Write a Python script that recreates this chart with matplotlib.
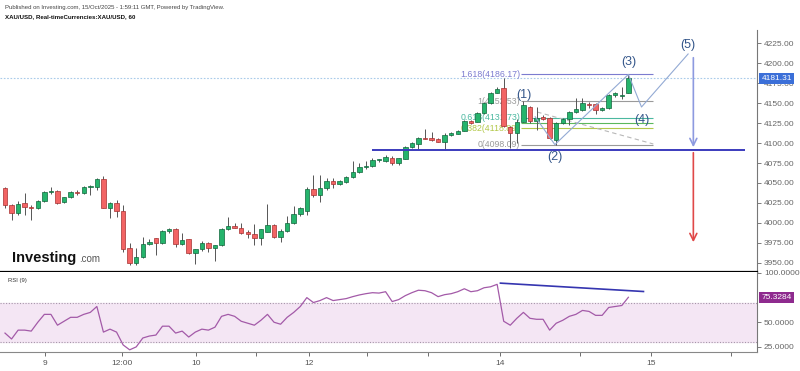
import numpy as np
import matplotlib.pyplot as plt
from matplotlib.transforms import blended_transform_factory

plt.rcParams['font.family'] = ['Liberation Sans', 'DejaVu Sans']

# XAU/USD 60 min candles
opens = [4043.3, 4022.4, 4012.3, 4024.9, 4019.9, 4018.6, 4027.4, 4038.7, 4040.4, 4026.0,
         4032.4, 4039.0, 4037.5, 4045.0, 4045.0, 4055.0, 4018.6, 4025.0, 4015.0, 3968.0,
         3950.0, 3957.0, 3973.5, 3980.6, 3975.0, 3990.0, 3991.9, 3973.5, 3979.4, 3961.8,
         3966.8, 3975.0, 3968.0, 3972.2, 3991.9, 3996.0, 3993.2, 3988.9, 3985.6, 3980.6,
         3988.9, 3997.3, 3982.6, 3990.1, 3999.4, 4011.1, 4015.2, 4042.0, 4034.9, 4044.0,
         4052.9, 4048.7, 4051.6, 4057.0, 4064.0, 4069.7, 4071.7, 4078.8, 4078.0, 4081.7,
         4074.7, 4080.0, 4094.8, 4099.0, 4106.8, 4106.0, 4104.8, 4101.8, 4110.2, 4112.0,
         4115.6, 4128.1, 4126.9, 4137.4, 4150.0, 4163.3, 4168.8, 4120.6, 4112.7, 4126.9,
         4145.7, 4127.8, 4133.2, 4131.2, 4104.0, 4124.9, 4130.3, 4139.1, 4141.2, 4149.5,
         4148.7, 4141.6, 4144.1, 4159.8, 4158.6, 4163.3]
highs = [4045.0, 4024.0, 4027.0, 4037.4, 4022.0, 4029.0, 4040.0, 4045.0, 4041.0, 4033.0,
         4040.0, 4041.0, 4046.0, 4047.5, 4056.0, 4058.8, 4026.5, 4029.0, 4022.4, 3974.7,
         3968.0, 3982.6, 3980.0, 3981.0, 3991.0, 3994.0, 3993.5, 3987.3, 3980.0, 3967.0,
         3977.6, 3976.0, 3972.5, 3993.5, 4006.9, 4000.0, 4000.0, 3991.0, 3998.5, 3992.5,
         4023.6, 3998.5, 3992.0, 4008.6, 4021.0, 4020.0, 4045.3, 4060.0, 4060.0, 4056.0,
         4056.0, 4054.0, 4058.8, 4078.0, 4075.0, 4078.0, 4081.3, 4080.5, 4085.0, 4083.8,
         4081.5, 4096.0, 4101.4, 4107.7, 4117.4, 4114.3, 4106.5, 4112.7, 4114.0, 4117.0,
         4129.6, 4129.6, 4139.0, 4151.6, 4164.2, 4170.8, 4181.7, 4121.5, 4130.0, 4152.53,
         4146.6, 4145.7, 4135.3, 4132.8, 4126.5, 4131.5, 4140.3, 4156.6, 4157.0, 4151.6,
         4150.4, 4145.3, 4161.0, 4164.2, 4170.8, 4186.17]
lows = [4018.0, 4003.6, 4010.0, 4010.0, 4003.6, 4017.0, 4026.0, 4036.0, 4023.0, 4025.0,
        4031.0, 4035.0, 4036.0, 4035.0, 4041.0, 4018.0, 4006.0, 4007.0, 3963.0, 3947.1,
        3947.0, 3956.0, 3972.0, 3959.7, 3974.0, 3987.0, 3970.0, 3972.0, 3961.0, 3948.4,
        3965.0, 3964.0, 3952.5, 3971.0, 3991.0, 3993.0, 3986.0, 3981.4, 3972.0, 3972.0,
        3988.0, 3981.0, 3976.0, 3989.0, 3998.0, 4009.0, 4009.8, 4033.0, 4026.5, 4041.0,
        4044.0, 4047.0, 4050.0, 4056.0, 4062.0, 4068.0, 4070.0, 4076.0, 4076.0, 4073.0,
        4073.0, 4079.7, 4094.0, 4092.3, 4104.6, 4102.7, 4100.8, 4091.4, 4109.0, 4111.0,
        4114.6, 4124.6, 4125.9, 4136.6, 4149.0, 4162.3, 4120.2, 4093.9, 4100.2, 4126.0,
        4125.3, 4116.5, 4129.0, 4105.0, 4098.09, 4124.0, 4122.8, 4138.0, 4140.0, 4143.7,
        4136.6, 4140.3, 4142.9, 4158.0, 4155.0, 4162.9]
closes = [4022.4, 4012.3, 4023.6, 4019.9, 4018.6, 4027.4, 4038.7, 4040.4, 4024.9, 4032.4,
          4039.1, 4037.5, 4045.0, 4046.2, 4055.0, 4018.6, 4025.3, 4014.9, 3967.2, 3949.2,
          3957.2, 3973.5, 3976.3, 3975.1, 3990.1, 3991.9, 3973.5, 3978.5, 3961.8, 3966.8,
          3974.3, 3968.0, 3972.2, 3991.9, 3996.0, 3993.9, 3986.9, 3986.0, 3980.6, 3991.9,
          3997.3, 3982.6, 3990.1, 3999.4, 4011.1, 4018.2, 4042.1, 4034.9, 4044.1, 4052.9,
          4048.7, 4052.5, 4057.1, 4064.2, 4069.7, 4071.7, 4078.8, 4079.5, 4082.2, 4074.7,
          4081.0, 4094.8, 4099.8, 4106.1, 4105.6, 4103.9, 4101.8, 4110.2, 4112.3, 4115.6,
          4128.1, 4125.6, 4137.4, 4150.0, 4162.5, 4167.5, 4120.9, 4112.7, 4126.9, 4147.8,
          4127.8, 4131.9, 4130.3, 4106.1, 4124.9, 4130.3, 4139.1, 4143.2, 4150.0, 4147.8,
          4141.6, 4144.1, 4159.8, 4162.9, 4160.0, 4181.31]

rsi = [39, 33, 42, 42, 41, 50, 58, 58, 47, 51, 55, 55, 58, 60, 66, 40, 43, 40, 27, 22,
       25, 34, 36, 37, 46, 46, 39, 41, 35, 40, 43, 42, 45, 56, 58, 56, 51, 49, 47, 52,
       58, 50, 48, 55, 60, 66, 75, 70, 72, 75, 72, 73, 74, 76, 77.7, 79, 80, 79.6, 81, 71,
       73, 77, 80, 82.5, 82, 80, 76, 78, 79, 81, 84, 81, 82, 85, 86, 88.5, 51, 47, 54, 60,
       54, 53, 53, 42, 49, 52, 56, 58, 62, 61, 57, 57, 65, 66, 67, 75.3284]

price_ticks = [3950, 3975, 4000, 4025, 4050, 4075, 4100, 4125, 4150, 4175, 4200, 4225]
rsi_ticks = [25, 50, 100]
date_pos = [6.1, 17.8, 29.1, 38.3, 46.3, 55.2, 64.5, 75.5, 87.7, 98.5, 110.7]
date_labels = ['9', '12:00', '10', '', '12', '', '', '14', '', '15', '']

last_price = 4181.31
support = 4091.4
fib_prices = [4098.09, 4118.89, 4125.31, 4131.73, 4152.53, 4186.17]
fib_labels = ['0(4098.09)', '0.382(4118.89)', '', '0.618(4131.73)', '1(4152.53)', '1.618(4186.17)']
fib_colors = ['#9a9a9a', '#b3c84a', '#5cb85c', '#4bb8a0', '#9a9a9a', '#7c7cd0']

# elliott count drawn on the chart
wave_x = [80.8, 83.8, 95.0, 97.0, 104.1]
wave_y = [4133.0, 4098.09, 4186.17, 4145.3, 4211.8]
wave_names = ['(1)', '(2)', '(3)', '(4)', '(5)']
wave_lx = [79.0, 83.8, 95.0, 97.0, 104.1]
wave_ly = [4160.4, 4082.6, 4201.8, 4129.0, 4223.1]
target = 3972.2

n = len(closes)
idx = np.arange(n)
o = np.array(opens)
c = np.array(closes)
up = c >= o

fig = plt.figure(figsize=(8, 3.71), dpi=100)
ax = fig.add_axes([0, 1 - 272 / 371, 757 / 800, 242 / 371])
ax2 = fig.add_axes([0, 1 - 352 / 371, 757 / 800, 80 / 371])

# candles
ax.vlines(idx, lows, highs, color='#555555', lw=0.7, zorder=3)
body_lo = np.minimum(o, c)
body_h = np.maximum(np.abs(c - o), 0.9)
ax.bar(idx[up], body_h[up], bottom=body_lo[up], width=0.68, color='#25b46c',
       edgecolor='#11663c', linewidth=0.5, zorder=4)
ax.bar(idx[~up], body_h[~up], bottom=body_lo[~up], width=0.68, color='#f26464',
       edgecolor='#a53030', linewidth=0.5, zorder=4)

ax.axhline(last_price, color='#a9cbea', lw=0.8, ls=(0, (1.5, 1.5)), zorder=1)
ax.hlines(support, 55.9, 112.8, color='#3b3bbd', lw=1.4, zorder=5)

# fib extension
for p, lab, col in zip(fib_prices, fib_labels, fib_colors):
    ax.hlines(p, 78.7, 98.8, color=col, lw=0.8, zorder=2)
    if lab:
        ax.text(78.5, p, lab, color=col, fontsize=6.3, ha='right', va='center', zorder=2)
ax.plot([81.1, 98.8], [4139.0, 4098.9], color='#b8b8b8', lw=0.8, ls=(0, (4, 3)), zorder=2)

ax.plot(wave_x, wave_y, color='#93aad4', lw=0.8, zorder=6)
for x, y, t in zip(wave_lx, wave_ly, wave_names):
    ax.text(x, y, t, color='#34568a', fontsize=9, ha='center', va='center', zorder=7)

ax.annotate('', xy=(104.9, support), xytext=(104.9, 4210.6),
            arrowprops=dict(arrowstyle='->,head_length=0.5,head_width=0.25', color='#8d9ae0', lw=1.2))
ax.annotate('', xy=(104.9, target), xytext=(104.9, support),
            arrowprops=dict(arrowstyle='->,head_length=0.5,head_width=0.25', color='#e04848', lw=1.2))

ax.set_xlim(-0.76, 114.6)
ax.set_ylim(3938.3, 4241.9)
ax.yaxis.tick_right()
ax.set_yticks(price_ticks)
ax.set_yticklabels(['%.2f' % t for t in price_ticks])
ax.tick_params(axis='y', labelsize=6, colors='#666666', length=3, width=0.6, pad=2)
ax.tick_params(axis='x', bottom=False, labelbottom=False)
for s in ['left', 'top']:
    ax.spines[s].set_visible(False)
ax.spines['right'].set_color('#777777')
ax.spines['right'].set_linewidth(0.8)
ax.spines['bottom'].set_color('black')
ax.spines['bottom'].set_linewidth(1.6)

tr = blended_transform_factory(ax.transAxes, ax.transData)
ax.text(1.006, last_price, '%.2f' % last_price, transform=tr, fontsize=6, color='white',
        ha='left', va='center', zorder=10,
        bbox=dict(boxstyle='square,pad=0.25', fc='#3b6fd8', ec='none'))

# RSI panel
ax2.axhspan(30, 70, color='#f4e6f4', zorder=0)
ax2.axhline(70, color='#a595a8', lw=0.8, ls=(0, (1, 1.5)))
ax2.axhline(30, color='#a595a8', lw=0.8, ls=(0, (1, 1.5)))
ax2.plot(idx, rsi, color='#a35aa8', lw=0.9)
ax2.plot([75.5, 97.3], [89.7, 81.2], color='#3535b0', lw=1.2)
ax2.set_xlim(-0.76, 114.6)
ax2.set_ylim(19.8, 101)
ax2.yaxis.tick_right()
ax2.set_yticks(rsi_ticks)
ax2.set_yticklabels(['%.4f' % t for t in rsi_ticks])
ax2.tick_params(axis='y', labelsize=6, colors='#666666', length=3, width=0.6, pad=2)
ax2.set_xticks(date_pos)
ax2.set_xticklabels(date_labels)
ax2.tick_params(axis='x', labelsize=6, colors='#555555', length=3, width=0.6, pad=3)
for s in ['left', 'top']:
    ax2.spines[s].set_visible(False)
ax2.spines['right'].set_color('#777777')
ax2.spines['right'].set_linewidth(0.8)
ax2.spines['bottom'].set_color('#888888')
ax2.spines['bottom'].set_linewidth(0.8)
tr2 = blended_transform_factory(ax2.transAxes, ax2.transData)
ax2.text(1.006, rsi[-1], '%.4f' % rsi[-1], transform=tr2, fontsize=6, color='white',
         ha='left', va='center', zorder=10,
         bbox=dict(boxstyle='square,pad=0.25', fc='#8e2a8e', ec='none'))
ax2.text(0.01, 0.88, 'RSI (9)', transform=ax2.transAxes, fontsize=4.2, color='#333333')

fig.text(5 / 800, 1 - 7 / 371, 'Published on Investing.com, 15/Oct/2025 - 1:59:11 GMT, Powered by TradingView.',
         fontsize=4.3, color='#444444', va='center')
fig.text(5 / 800, 1 - 17 / 371, 'XAU/USD, Real-timeCurrencies:XAU/USD, 60',
         fontsize=4.4, color='#111111', fontweight='bold', va='center')
fig.text(12 / 800, 1 - 258 / 371, 'Investing', fontsize=10.5, fontweight='bold', color='#111111', va='center')
fig.text(79 / 800, 1 - 259.5 / 371, '.com', fontsize=7, color='#555555', va='center')

plt.savefig('out.png', dpi=100)
